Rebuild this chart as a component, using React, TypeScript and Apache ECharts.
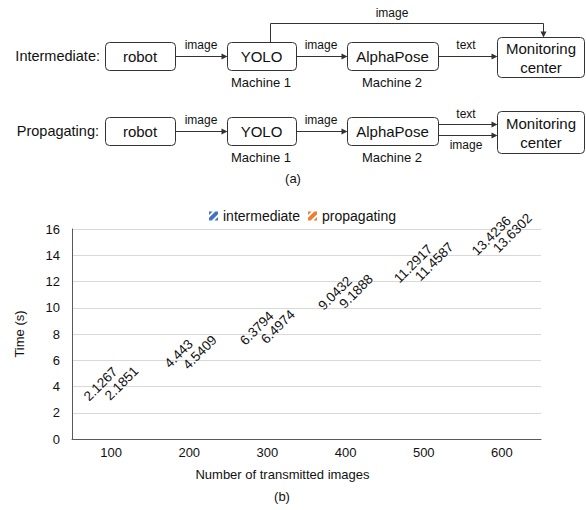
import React, { useEffect, useRef } from "react";
import * as echarts from "echarts";

const categories = ["100", "200", "300", "400", "500", "600"];
const intermediate = [2.1267, 4.443, 6.3794, 9.0432, 11.2917, 13.4236];
const propagating = [2.1851, 4.5409, 6.4974, 9.1888, 11.4587, 13.6302];
const seriesNames = ["intermediate", "propagating"];
const seriesColors = ["#4472c4", "#ed7d31"];

const FONT = "'Liberation Sans', Arial, sans-serif";
const INK = "#333";

const HATCH =
  "path://M0 0L4 0L0 4Z M7 0L10 0L10 3L3 10L0 10L0 7Z M10 6L10 10L6 10Z";

function txt(text: string, x: number, y: number, size = 13, align = "center") {
  return {
    type: "text",
    silent: true,
    style: {
      text,
      x,
      y,
      fill: "#111",
      fontSize: size,
      fontFamily: FONT,
      align,
      verticalAlign: "middle",
    },
  };
}

function box(x: number, y: number, w: number, h: number) {
  return {
    type: "rect",
    silent: true,
    shape: { x: x + 0.5, y: y + 0.5, width: w, height: h, r: 4 },
    style: { fill: "#fff", stroke: INK, lineWidth: 1 },
  };
}

function arrow(points: number[][], dir: "right" | "down") {
  const last = points[points.length - 1];
  const [ex, ey] = last;
  const head =
    dir === "right"
      ? [[ex, ey], [ex - 6, ey - 3], [ex - 6, ey + 3]]
      : [[ex, ey], [ex - 3, ey - 6], [ex + 3, ey - 6]];
  const linePts = points.map((p, i) =>
    i === points.length - 1
      ? dir === "right"
        ? [p[0] - 5, p[1]]
        : [p[0], p[1] - 5]
      : p
  );
  return [
    {
      type: "polyline",
      silent: true,
      shape: { points: linePts.map((p) => [p[0] + 0.5, p[1] + 0.5]) },
      style: { stroke: INK, lineWidth: 1, fill: null },
    },
    {
      type: "polygon",
      silent: true,
      shape: { points: head.map((p) => [p[0] + 0.5, p[1] + 0.5]) },
      style: { fill: INK, stroke: null },
    },
  ];
}

const BOX_FS = 15;
const LBL_FS = 12;
const MACH_FS = 13;
const ROW_FS = 14.5;

function diagram() {
  const els: any[] = [];
  // Row 1: Intermediate
  els.push(txt("Intermediate:", 100, 56, ROW_FS, "right"));
  els.push(box(105, 42, 70, 28), txt("robot", 140, 56, BOX_FS));
  els.push(box(227, 42, 69, 28), txt("YOLO", 261.5, 56, BOX_FS));
  els.push(box(347, 42, 91, 28), txt("AlphaPose", 392.5, 56, BOX_FS));
  els.push(box(497, 37, 87, 40), txt("Monitoring", 541, 48, BOX_FS), txt("center", 541, 67, BOX_FS));
  els.push(...arrow([[175, 56], [227, 56]], "right"));
  els.push(...arrow([[296, 56], [347, 56]], "right"));
  els.push(...arrow([[438, 56], [497, 56]], "right"));
  els.push(...arrow([[270, 42], [270, 23], [543, 23], [543, 37]], "down"));
  els.push(
    txt("image", 201, 45, LBL_FS),
    txt("image", 321, 45, LBL_FS),
    txt("text", 466, 45, LBL_FS),
    txt("image", 392, 13, LBL_FS)
  );
  els.push(txt("Machine 1", 261, 82, MACH_FS), txt("Machine 2", 392, 82, MACH_FS));

  // Row 2: Propagating
  els.push(txt("Propagating:", 99, 131, ROW_FS, "right"));
  els.push(box(105, 117, 70, 28), txt("robot", 140, 131, BOX_FS));
  els.push(box(227, 117, 69, 28), txt("YOLO", 261.5, 131, BOX_FS));
  els.push(box(347, 117, 91, 28), txt("AlphaPose", 392.5, 131, BOX_FS));
  els.push(box(497, 111, 87, 42), txt("Monitoring", 541, 123, BOX_FS), txt("center", 541, 142, BOX_FS));
  els.push(...arrow([[175, 131], [227, 131]], "right"));
  els.push(...arrow([[296, 131], [347, 131]], "right"));
  els.push(...arrow([[438, 124], [497, 124]], "right"));
  els.push(...arrow([[438, 135], [497, 135]], "right"));
  els.push(
    txt("image", 201, 120, LBL_FS),
    txt("image", 321, 120, LBL_FS),
    txt("text", 466, 114, LBL_FS),
    txt("image", 466, 145, LBL_FS)
  );
  els.push(txt("Machine 1", 261, 157, MACH_FS), txt("Machine 2", 392, 157, MACH_FS));
  els.push(txt("(a)", 293, 178, 13));
  els.push(txt("(b)", 282, 496, 13));
  return els;
}

export default function App() {
  const ref = useRef<HTMLDivElement>(null);
  useEffect(() => {
    document.body.style.margin = "0";
    const chart = echarts.init(ref.current!, null, { renderer: "svg" });
    const labelCfg = {
      show: true,
      position: "top",
      distance: 27,
      rotate: 45,
      align: "center",
      verticalAlign: "middle",
      color: "#111",
      fontSize: 13.5,
      fontFamily: FONT,
    };
    chart.setOption({
      animation: false,
      textStyle: { fontFamily: FONT },
      legend: {
        left: 204,
        top: 204,
        itemWidth: 9,
        itemHeight: 9,
        itemGap: 8,
        textStyle: { fontSize: 14, color: "#111", fontFamily: FONT },
        data: seriesNames.map((n, i) => ({
          name: n,
          icon: HATCH,
          itemStyle: { color: seriesColors[i], borderWidth: 0 },
        })),
      },
      grid: { left: 72, right: 45, top: 229, bottom: 71, containLabel: false },
      xAxis: {
        type: "category",
        data: categories,
        name: "Number of transmitted images",
        nameLocation: "middle",
        nameGap: 29,
        nameTextStyle: { fontSize: 13, color: "#111", padding: [0, 48, 0, 0] },
        axisLine: { show: true, lineStyle: { color: "#595959", width: 1 } },
        axisTick: { show: false },
        axisLabel: { fontSize: 13, color: "#111", margin: 7 },
      },
      yAxis: {
        type: "value",
        min: 0,
        max: 16,
        interval: 2,
        name: "Time (s)",
        nameLocation: "middle",
        nameGap: 46,
        nameTextStyle: { fontSize: 13, color: "#111" },
        axisLine: { show: true, lineStyle: { color: "#595959", width: 1 } },
        axisTick: { show: false },
        axisLabel: { fontSize: 13, color: "#111", margin: 12 },
        splitLine: { lineStyle: { color: "#d9d9d9", width: 1 } },
      },
      series: [
        {
          name: seriesNames[0],
          type: "bar",
          data: intermediate,
          barWidth: 18,
          barGap: "17%",
          itemStyle: { color: "rgba(0,0,0,0)" },
          label: labelCfg,
        },
        {
          name: seriesNames[1],
          type: "bar",
          data: propagating,
          barWidth: 18,
          barGap: "17%",
          itemStyle: { color: "rgba(0,0,0,0)" },
          label: labelCfg,
        },
      ],
      graphic: diagram(),
    });
    return () => chart.dispose();
  }, []);
  return <div ref={ref} style={{ width: 586, height: 510 }} />;
}
